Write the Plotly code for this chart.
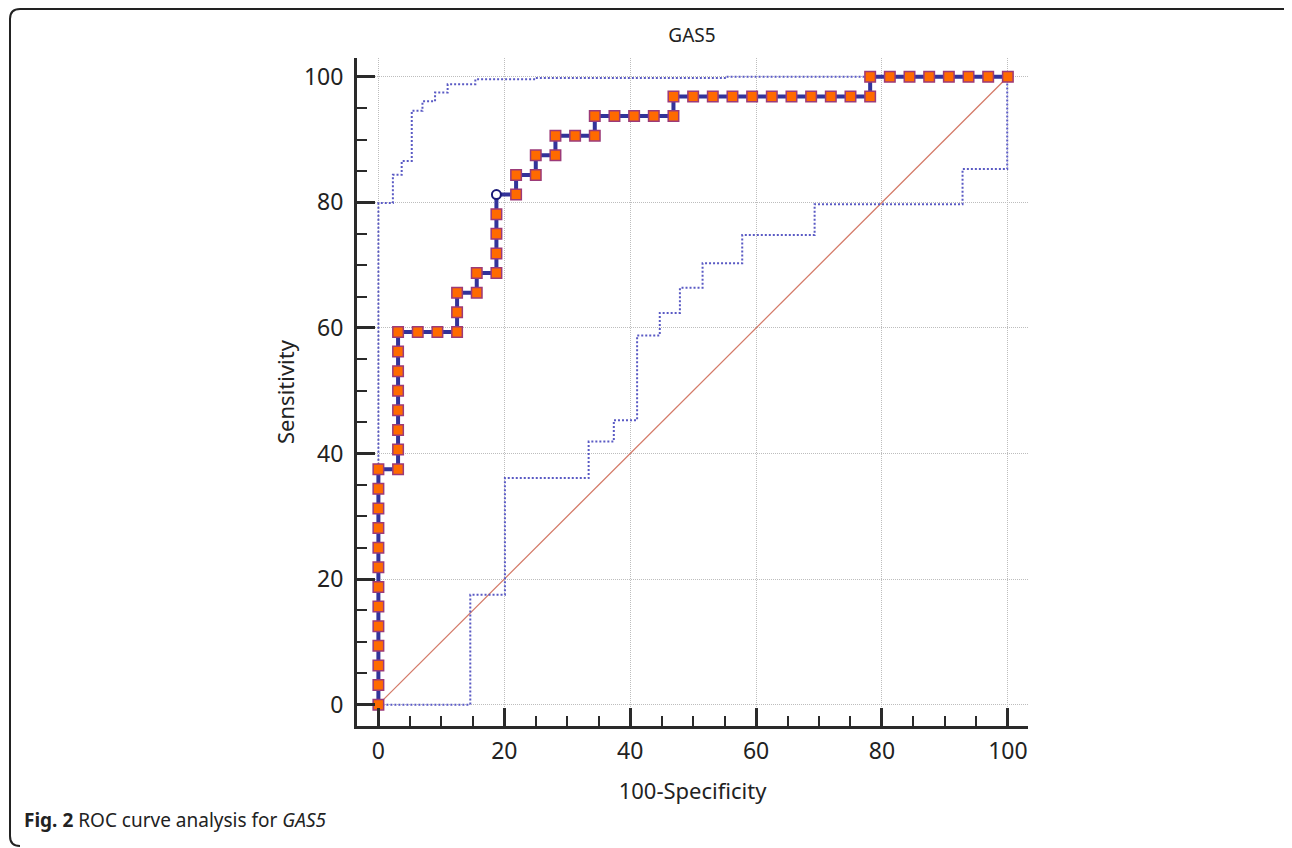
import plotly.graph_objects as go

# ---------------- data ----------------
roc_x = [0, 0, 0, 0, 0, 0, 0, 0, 0, 0, 0, 0, 0,
         3.125, 3.125, 3.125, 3.125, 3.125, 3.125, 3.125, 3.125,
         6.25, 9.375, 12.5, 12.5, 12.5,
         15.625, 15.625,
         18.75, 18.75, 18.75, 18.75, 18.75,
         21.875, 21.875,
         25, 25,
         28.125, 28.125,
         31.25,
         34.375, 34.375,
         37.5, 40.625, 43.75, 46.875, 46.875,
         50, 53.125, 56.25, 59.375, 62.5, 65.625, 68.75, 71.875, 75, 78.125, 78.125,
         81.25, 84.375, 87.5, 90.625, 93.75, 96.875, 100]
roc_y = [0, 3.125, 6.25, 9.375, 12.5, 15.625, 18.75, 21.875, 25, 28.125, 31.25, 34.375, 37.5,
         37.5, 40.625, 43.75, 46.875, 50, 53.125, 56.25, 59.375,
         59.375, 59.375, 59.375, 62.5, 65.625,
         65.625, 68.75,
         68.75, 71.875, 75, 78.125, 81.25,
         81.25, 84.375,
         84.375, 87.5,
         87.5, 90.625,
         90.625,
         90.625, 93.75,
         93.75, 93.75, 93.75, 93.75, 96.875,
         96.875, 96.875, 96.875, 96.875, 96.875, 96.875, 96.875, 96.875, 96.875, 96.875, 100,
         100, 100, 100, 100, 100, 100, 100]

criterion_x = [18.75]
criterion_y = [81.25]

upper_x = [0, 0, 2.3, 2.3, 3.7, 3.7, 5.3, 5.3, 7.0, 7.0, 9.0, 9.0, 11.0, 11.0,
           15.4, 15.4, 25.0, 25.0, 55.3, 55.3, 100]
upper_y = [0, 79.9, 79.9, 84.4, 84.4, 86.6, 86.6, 94.6, 94.6, 96.1, 96.1, 97.5, 97.5, 98.8,
           98.8, 99.6, 99.6, 99.8, 99.8, 100, 100]

lower_x = [0, 14.6, 14.6, 20.1, 20.1, 33.4, 33.4, 37.4, 37.4, 41.1, 41.1, 44.7, 44.7,
           47.9, 47.9, 51.5, 51.5, 57.8, 57.8, 69.3, 69.3, 92.8, 92.8, 99.9, 99.9]
lower_y = [0, 0, 17.5, 17.5, 36.1, 36.1, 41.9, 41.9, 45.3, 45.3, 58.8, 58.8, 62.4,
           62.4, 66.4, 66.4, 70.3, 70.3, 74.8, 74.8, 79.7, 79.7, 85.3, 85.3, 100]

diag_x = [0, 100]
diag_y = [0, 100]

x_ticks = [0, 20, 40, 60, 80, 100]
y_ticks = [0, 20, 40, 60, 80, 100]

# ---------------- figure ----------------
OFF = 8                      # page body margin
W, H = 1292 - OFF, 848 - OFF
L, R, T, B = 357, 1028, 58, 726   # plot area in screen pixels


def px(x):
    return (x - L) / (R - L)


def py(y):
    return (B - y) / (B - T)


FONT = "Noto Sans"
TXT = "#222222"

fig = go.Figure()

fig.add_trace(go.Scatter(x=diag_x, y=diag_y, mode="lines",
                         line=dict(color="#d47a68", width=1.3), hoverinfo="skip"))
fig.add_trace(go.Scatter(x=upper_x, y=upper_y, mode="lines",
                         line=dict(color="#5a5ac4", width=2, dash="2px,2px"), hoverinfo="skip"))
fig.add_trace(go.Scatter(x=lower_x, y=lower_y, mode="lines",
                         line=dict(color="#5a5ac4", width=2, dash="2px,2px"), hoverinfo="skip"))
fig.add_trace(go.Scatter(x=roc_x, y=roc_y, mode="lines",
                         line=dict(color="#33339a", width=4)))
mk_x = [a for a, b in zip(roc_x, roc_y) if not (a == criterion_x[0] and b == criterion_y[0])]
mk_y = [b for a, b in zip(roc_x, roc_y) if not (a == criterion_x[0] and b == criterion_y[0])]
fig.add_trace(go.Scatter(x=mk_x, y=mk_y, mode="markers",
                         marker=dict(symbol="square", size=10.5, color="#ff6a00",
                                     line=dict(color="#9c3a78", width=1.5))))
fig.add_trace(go.Scatter(x=criterion_x, y=criterion_y, mode="markers",
                         marker=dict(symbol="circle", size=9, color="white",
                                     line=dict(color="#1a1a78", width=2))))

axis_common = dict(
    showline=True, linewidth=3, linecolor="#2a2a2a",
    ticks="inside", ticklen=18, tickwidth=3, tickcolor="#2a2a2a",
    minor=dict(ticks="inside", ticklen=10, tickwidth=2, tickcolor="#2a2a2a", dtick=5,
               tick0=0, showgrid=False),
    showgrid=True, gridcolor="#bdbdbd", gridwidth=1, griddash="1px,1px",
    zeroline=False,
    tickfont=dict(family=FONT, size=23, color=TXT),
    title_font=dict(family=FONT, size=22, color=TXT),
)

fig.update_layout(
    width=W, height=H,
    margin=dict(l=L - OFF, r=W - (R - OFF), t=T - OFF, b=H - (B - OFF), autoexpand=False),
    paper_bgcolor="white", plot_bgcolor="white",
    showlegend=False,
    title=dict(text="GAS5", x=px(692), xref="paper", y=1 - (35 - OFF) / H, yanchor="middle",
               xanchor="center", font=dict(family=FONT, size=19, color=TXT)),
    xaxis=dict(range=[-3.4, 103.2], tickvals=x_ticks,
               title=dict(text="100-Specificity", standoff=20), ticklabelstandoff=2,
               **axis_common),
    yaxis=dict(range=[-3.4, 103.0], tickvals=y_ticks,
               title=dict(text="Sensitivity", standoff=4), ticklabelstandoff=6,
               **axis_common),
)

fig.add_annotation(
    text="<b>Fig. 2</b> ROC curve analysis for <i>GAS5</i>",
    xref="paper", yref="paper", x=px(22), y=py(820),
    xanchor="left", yanchor="middle", showarrow=False,
    font=dict(family=FONT, size=19, color=TXT),
)

frame = (f"M {px(1296)},{py(18)} Q {px(1296)},{py(9)} {px(1286)},{py(9)} "
         f"L {px(20)},{py(9)} Q {px(10)},{py(9)} {px(10)},{py(19)} "
         f"L {px(10)},{py(836)} Q {px(10)},{py(846)} {px(20)},{py(846)}")
fig.add_shape(type="path", path=frame, xref="paper", yref="paper",
              line=dict(color="#222222", width=2), layer="above")

fig.write_html("out.html")
